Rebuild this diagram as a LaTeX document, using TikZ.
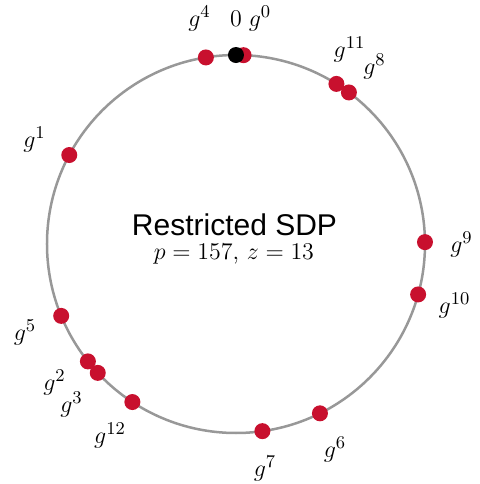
\documentclass[tikz,border=0pt]{standalone}
\usepackage{fontspec}
\newfontfamily\titlefont{Liberation Sans}
\definecolor{dotred}{RGB}{200,16,46}
\definecolor{ringgray}{RGB}{152,152,152}

\begin{document}
\begin{tikzpicture}[x=0.5pt, y=0.5pt,
    ring/.style={draw=ringgray, line width=1.25pt},
    dot/.style={circle, fill=dotred, inner sep=0pt, minimum size=8pt},
    zerodot/.style={dot, fill=black},
    lbl/.style={anchor=base, font=\fontsize{13}{16}\selectfont}]
      \useasboundingbox (-236,-240) rectangle (243,244);
      \draw[ring] (0,0) circle (94.5pt);
      % points g^k on the circle, at angle 90 - 360 v/157
      \node[dot] (p0) at ({90-360/157*1}:94.5pt) {};
      \node[dot] (p1) at ({90-360/157*130}:94.5pt) {};
      \node[dot] (p2) at ({90-360/157*101}:94.5pt) {};
      \node[dot] (p3) at ({90-360/157*99}:94.5pt) {};
      \node[dot] (p4) at ({90-360/157*153}:94.5pt) {};
      \node[dot] (p5) at ({90-360/157*108}:94.5pt) {};
      \node[dot] (p6) at ({90-360/157*67}:94.5pt) {};
      \node[dot] (p7) at ({90-360/157*75}:94.5pt) {};
      \node[dot] (p8) at ({90-360/157*16}:94.5pt) {};
      \node[dot] (p9) at ({90-360/157*39}:94.5pt) {};
      \node[dot] (p10) at ({90-360/157*46}:94.5pt) {};
      \node[dot] (p11) at ({90-360/157*14}:94.5pt) {};
      \node[dot] (p12) at ({90-360/157*93}:94.5pt) {};
      \node[zerodot] (zero) at (90:94.5pt) {};
      % labels
      \node[lbl] (lzero) at (0, 218) {$0$};
      \node[lbl] (l0) at (24, 218) {$g^{0}$};
      \node[lbl] (l4) at (-36.5, 218) {$g^{4}$};
      \node[lbl] (l11) at (113.5, 187) {$g^{11}$};
      \node[lbl] (l8) at (138.5, 170) {$g^{8}$};
      \node[lbl] (l1) at (-201.5, 97) {$g^{1}$};
      \node[lbl] (l9) at (225.5, -8) {$g^{9}$};
      \node[lbl] (l10) at (218.5, -69) {$g^{10}$};
      \node[lbl] (l5) at (-211, -96) {$g^{5}$};
      \node[lbl] (l2) at (-181.5, -146) {$g^{2}$};
      \node[lbl] (l3) at (-164.5, -168) {$g^{3}$};
      \node[lbl] (l12) at (-126, -199) {$g^{12}$};
      \node[lbl] (l7) at (29, -232) {$g^{7}$};
      \node[lbl] (l6) at (99, -213) {$g^{6}$};
      \node[anchor=base, font=\titlefont\fontsize{15}{18}\selectfont] (title) at (-1.5, 9) {Restricted SDP};
      \node[anchor=base, font=\fontsize{12}{14}\selectfont] (params) at (-2, -15) {$p = 157$, $z = 13$};
\end{tikzpicture}
\end{document}
